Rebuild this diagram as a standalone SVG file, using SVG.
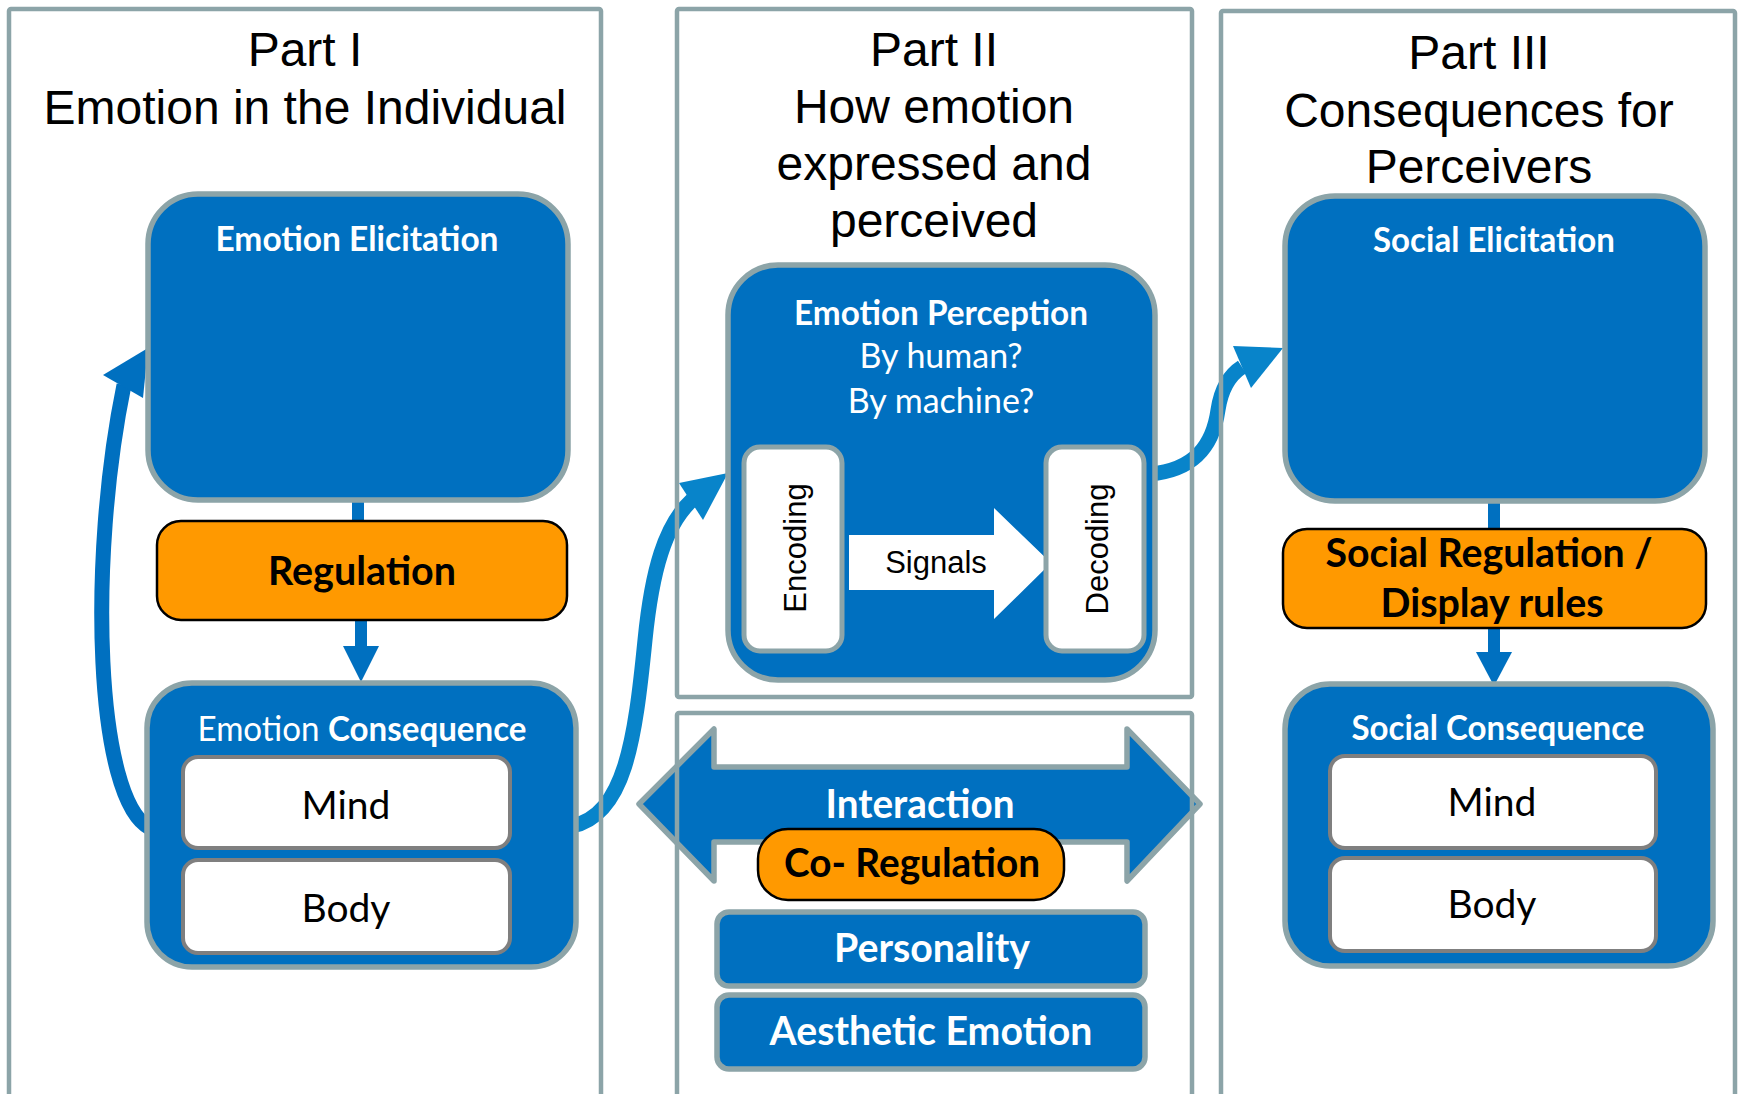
<svg xmlns="http://www.w3.org/2000/svg" width="1742" height="1094" viewBox="0 0 1742 1094">
<style>
.frame{fill:none;stroke:#8CA4A8;stroke-width:4.5}
.title{font-family:"Liberation Sans",Arial,sans-serif;font-size:48px;fill:#000;text-anchor:middle}
.blue{fill:#0070C0;stroke:#8CA4A8;stroke-width:5.5}
.white{fill:#fff;stroke:#7F7F7F;stroke-width:4}
.wteal{fill:#fff;stroke:#8CA4A8;stroke-width:5}
.orange{fill:#FF9900;stroke:#000;stroke-width:2.5}
.cal{font-family:Lato,"Open Sans",sans-serif;text-anchor:middle}
.hdr{font-size:34px;font-weight:700;fill:#fff}
.big{font-size:40px;font-weight:700}
.reg{font-size:39px;fill:#000}
.sub{font-size:34px;fill:#fff}
.arial{font-family:"Liberation Sans",Arial,sans-serif;font-size:31px;fill:#000;text-anchor:middle}
.conn{fill:none;stroke-width:15}
.c1{stroke:#0070C0}
.c2{stroke:#0884CA}
.h1{fill:#0070C0}
.h2{fill:#0884CA}
.bar{fill:#0070C0}
</style>

<g id="connectors">
  <path class="conn c1" d="M 150 828 C 95 800, 88 560, 124 385"/>
  <polygon class="h1" points="148,348 103,375 143,398"/>
  <path class="conn c2" d="M 572 826 C 625 815, 635 740, 645 640 C 652 570, 665 525, 692 500"/>
  <polygon class="h2" points="728,473 679,483 703,520"/>
  <path class="conn c2" d="M 1150 474 C 1195 470, 1213 445, 1218 410 C 1221 390, 1228 376, 1242 367"/>
  <polygon class="h2" points="1283,348 1233,346 1251,388"/>
  <rect class="bar" x="352" y="498" width="12" height="26"/>
  <rect class="bar" x="355" y="618" width="12" height="30"/>
  <polygon class="h1" points="343,646 379,646 361,682"/>
  <rect class="bar" x="1488" y="499" width="12" height="32"/>
  <rect class="bar" x="1488" y="626" width="12" height="28"/>
  <polygon class="h1" points="1476,652 1512,652 1494,686"/>
</g>

<g id="emotion-elicitation">
  <rect class="blue" x="148" y="194" width="420" height="306" rx="50"/>
  <text class="cal hdr" x="357" y="251" textLength="283" lengthAdjust="spacingAndGlyphs">Emotion Elicitation</text>
</g>
<g id="regulation">
  <rect class="orange" x="157" y="521" width="410" height="99" rx="24"/>
  <text class="cal big" x="362" y="585" textLength="188" lengthAdjust="spacingAndGlyphs">Regulation</text>
</g>
<g id="emotion-consequence">
  <rect class="blue" x="147" y="683" width="429" height="284" rx="45"/>
  <text class="cal sub" x="362" y="741" textLength="329" lengthAdjust="spacingAndGlyphs">Emotion <tspan font-weight="700">Consequence</tspan></text>
  <g id="mind-1">
    <rect class="white" x="183" y="757" width="327" height="91" rx="15"/>
    <text class="cal reg" x="346" y="819">Mind</text>
  </g>
  <g id="body-1">
    <rect class="white" x="183" y="860" width="327" height="93" rx="15"/>
    <text class="cal reg" x="346" y="922">Body</text>
  </g>
</g>

<g id="emotion-perception">
  <rect class="blue" x="728" y="265" width="427" height="415" rx="50"/>
  <text class="cal hdr" x="941" y="325" textLength="294" lengthAdjust="spacingAndGlyphs">Emotion Perception</text>
  <text class="cal sub" x="941" y="368">By human?</text>
  <text class="cal sub" x="941" y="413">By machine?</text>
  <g id="encoding">
    <rect class="wteal" x="744" y="447" width="98" height="204" rx="16"/>
    <text class="arial" transform="translate(806,548) rotate(-90)">Encoding</text>
  </g>
  <g id="signals">
    <polygon fill="#fff" points="849,535 994,535 994,508 1051,563 994,619 994,590 849,590"/>
    <text class="arial" x="936" y="573">Signals</text>
  </g>
  <g id="decoding">
    <rect class="wteal" x="1046" y="447" width="98" height="204" rx="16"/>
    <text class="arial" transform="translate(1108,549) rotate(-90)">Decoding</text>
  </g>
</g>

<g id="interaction">
  <polygon class="blue" stroke-width="4.5" stroke-linejoin="round" points="639,804 714,729 714,767 1127,767 1127,729 1200,804 1127,881 1127,842 714,842 714,881"/>
  <text class="cal big" fill="#fff" x="920" y="818" textLength="189" lengthAdjust="spacingAndGlyphs">Interaction</text>
</g>
<g id="co-regulation">
  <rect class="orange" x="758" y="829" width="306" height="71" rx="30"/>
  <text class="cal big" x="912" y="877" textLength="256" lengthAdjust="spacingAndGlyphs">Co- Regulation</text>
</g>
<g id="personality">
  <rect class="blue" x="717" y="912" width="428" height="74" rx="12"/>
  <text class="cal big" fill="#fff" x="932" y="962" textLength="196" lengthAdjust="spacingAndGlyphs">Personality</text>
</g>
<g id="aesthetic-emotion">
  <rect class="blue" x="717" y="995" width="428" height="74" rx="12"/>
  <text class="cal big" fill="#fff" x="931" y="1045" textLength="323" lengthAdjust="spacingAndGlyphs">Aesthetic Emotion</text>
</g>

<g id="social-elicitation">
  <rect class="blue" x="1285" y="196" width="420" height="305" rx="50"/>
  <text class="cal hdr" x="1494" y="252" textLength="242" lengthAdjust="spacingAndGlyphs">Social Elicitation</text>
</g>
<g id="social-regulation">
  <rect class="orange" x="1283" y="529" width="423" height="99" rx="24"/>
  <text class="cal big" x="1489" y="567" textLength="327" lengthAdjust="spacingAndGlyphs">Social Regulation /</text>
  <text class="cal big" x="1492" y="617" textLength="223" lengthAdjust="spacingAndGlyphs">Display rules</text>
</g>
<g id="social-consequence">
  <rect class="blue" x="1285" y="684" width="428" height="282" rx="45"/>
  <text class="cal hdr" x="1498" y="740" textLength="293" lengthAdjust="spacingAndGlyphs">Social Consequence</text>
  <g id="mind-3">
    <rect class="white" x="1330" y="756" width="326" height="92" rx="15"/>
    <text class="cal reg" x="1492" y="816">Mind</text>
  </g>
  <g id="body-3">
    <rect class="white" x="1330" y="858" width="326" height="93" rx="15"/>
    <text class="cal reg" x="1492" y="918">Body</text>
  </g>
</g>

<g id="sections">
  <rect class="frame" x="9" y="9" width="592" height="1100" rx="2"/>
  <rect class="frame" x="677" y="9" width="515" height="688" rx="2"/>
  <rect class="frame" x="677" y="713" width="515" height="400" rx="2"/>
  <rect class="frame" x="1221" y="11" width="514" height="1100" rx="2"/>
  <text class="title" x="305" y="66">Part I</text>
  <text class="title" x="305" y="124">Emotion in the Individual</text>
  <text class="title" x="934" y="66">Part II</text>
  <text class="title" x="934" y="123">How emotion</text>
  <text class="title" x="934" y="180">expressed and</text>
  <text class="title" x="934" y="237">perceived</text>
  <text class="title" x="1479" y="69">Part III</text>
  <text class="title" x="1479" y="127">Consequences for</text>
  <text class="title" x="1479" y="183">Perceivers</text>
</g>
</svg>
